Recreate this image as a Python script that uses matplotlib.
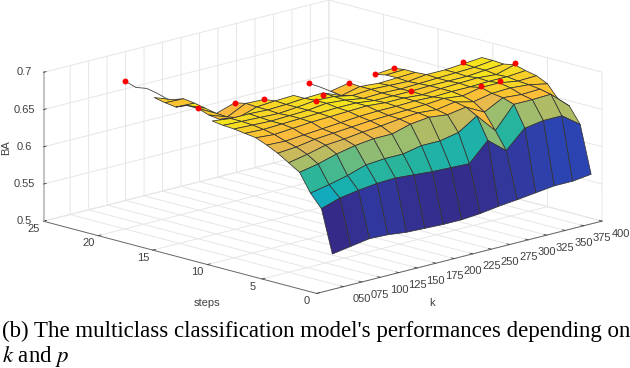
import numpy as np
import matplotlib
matplotlib.use('Agg')
import matplotlib.pyplot as plt
from matplotlib.colors import LinearSegmentedColormap, Normalize
from mpl_toolkits.mplot3d.art3d import Poly3DCollection

plt.rcParams['font.family'] = ['Liberation Sans']
plt.rcParams['mathtext.fontset'] = 'stix'
plt.rcParams['grid.color'] = '#e6e6e6'
plt.rcParams['grid.linewidth'] = 0.7

n = np.nan
k_vals = [50, 75, 100, 125, 150, 175, 200, 225, 250, 275, 300, 325, 350, 375, 400]
k_labels = ['050', '075', '100', '125', '150', '175', '200', '225', '250', '275', '300', '325', '350', '375', '400']
step_vals = list(range(1, 20))

# one row per step, one column per k
row01 = [.540, .544, .548, .547, .544, .543, .542, .542, .544, .5475, .550, .553, .556, .556, .559]
row02 = [.597, .605, .609, .612, .613, .611, .609, .608, .607, .632, .612, .636, .640, .640, .622]
row03 = [.614, .619, .625, .633, .635, .635, .640, .640, .645, .661, .635, .664, .664, .665, .643]
row04 = [.638, .643, .650, .655, .658, .658, .665, .668, .665, .669, .656, .669, .667, .668, .648]
row05 = [.647, .652, .658, .660, .663, .665, .668, .670, .668, .672, .666, .671, .672, .670, .665]
row06 = [.656, .658, .662, .664, .666, .668, .669, .670, .671, .673, .670, .675, .675, .671, .672]
row07 = [.663, .662, .664, .666, .668, .670, .671, .671, .672, .671, .672, .672, .673, .673, .675]
row08 = [.669, .667, .669, .671, .672, .673, .674, .672, .672, .670, .672, .673, .674, .672, .679]
row09 = [.671, .670, .671, .672, .673, .674, .674, .671, .671, .671, .672, .672, .672, .674, .676]
row10 = [.673, .672, .671, .672, .673, .676, .674, .670, .671, .670, .671, .672, .673, .674, .677]
row11 = [.674, .673, .672, .671, .673, .676, .675, .670, .672, .671, .670, .673, .673, .675, .677]
row12 = [.676, .673, .673, .672, .673, .675, .676, .666, .672, .670, .671, .672, n, n, n]
row13 = [n, .668, .664, .672, .674, .675, n, .668, .673, n, .671, .672, n, n, n]
row14 = [n, .670, .661, .673, .672, n, n, .670, n, n, .668, .670, n, n, n]
row15 = [n, .675, .662, .670, n, n, n, .671, n, n, n, n, n, n, n]
row16 = [n, .675, .665, n, n, n, n, n, n, n, n, n, n, n, n]
row17 = [n, .669, .668, n, n, n, n, n, n, n, n, n, n, n, n]
row18 = [n, .671, .670, n, n, n, n, n, n, n, n, n, n, n, n]
row19 = [n, .674, .665, n, n, n, n, n, n, n, n, n, n, n, n]
rows = [row01, row02, row03, row04, row05, row06, row07, row08, row09, row10,
        row11, row12, row13, row14, row15, row16, row17, row18, row19]

# columns with gaps next to them only show up as thin lines
line1_k = 50
line1_s = [16, 17, 18, 19, 20]
line1_z = [.689, .6936, .6965, .694, .699]
line2_k = 225
line2_s = [12, 13, 14, 15]
line2_z = [.666, .668, .670, .671]

# best point for each k
best_k = [50, 75, 125, 150, 175, 200, 225, 250, 275, 300, 325, 325, 350, 375, 400]
best_s = [20, 15, 15, 14, 11, 12, 15, 13, 9, 14, 14, 6, 6, 11, 8]
best_z = [.699, .675, .670, .672, .675, .673, .671, .673, .671, .668, .670, .677, .677, .677, .681]

parula = [(0.0, '#352a87'), (0.09, '#2f3fa8'), (0.18, '#2450c8'), (0.27, '#1c78d4'),
          (0.364, '#12a5c8'), (0.4545, '#10aeb8'), (0.545, '#2ab59a'), (0.636, '#6abb80'),
          (0.727, '#a8bd68'), (0.83, '#dcb855'), (0.91, '#fdbb3c'), (0.96, '#fac52f'), (1.0, '#f5e61c')]
cmap = LinearSegmentedColormap.from_list('parula', parula)
norm = Normalize(0.54, 0.675)

Z = np.array(rows)
K = np.array(k_vals)
S = np.array(step_vals)

fig = plt.figure(figsize=(6.3, 3.68), dpi=100)
ax = fig.add_axes([-0.026, 0.057, 1.06, 1.06], projection='3d', proj_type='ortho',
                  computed_zorder=False)
ax.set_box_aspect((399, 390, 154), zoom=1.442)
ax.view_init(elev=15, azim=-134.4)
ax.patch.set_alpha(0)

quads = []
cols = []
for r in range(len(S) - 1):
    for c in range(len(K) - 1):
        zz = [Z[r, c], Z[r, c + 1], Z[r + 1, c + 1], Z[r + 1, c]]
        if np.isnan(zz).any():
            continue
        quads.append([(K[c], S[r], zz[0]), (K[c + 1], S[r], zz[1]),
                      (K[c + 1], S[r + 1], zz[2]), (K[c], S[r + 1], zz[3])])
        cols.append(cmap(norm(Z[r, c])))
surf = Poly3DCollection(quads, facecolors=cols, edgecolors='#333333', linewidths=0.55, zorder=1)
ax.add_collection3d(surf)
surf.set_clip_on(False)

ax.plot([line1_k] * len(line1_s), line1_s, line1_z, color='#444444', lw=0.6, zorder=2, clip_on=False)
ax.plot([line2_k] * len(line2_s), line2_s, line2_z, color='#444444', lw=0.6, zorder=2, clip_on=False)
pts = ax.scatter(best_k, best_s, best_z, color='#ff0000', s=18, depthshade=False, zorder=3, linewidths=0)
pts.set_clip_on(False)

ax.set_xlim(14, 400, view_margin=0)
ax.set_ylim(0, 25, view_margin=0)
ax.set_zlim(0.5, 0.7, view_margin=0)
ax.set_xticks(k_vals)
ax.set_xticklabels(k_labels, ha='left')
ax.set_yticks([0, 5, 10, 15, 20, 25])
ax.set_yticklabels(['0', '5', '10', '15', '20', '25'], va='center')
ax.set_zticks([0.5, 0.55, 0.6, 0.65, 0.7])
ax.set_zticklabels(['0.5', '0.55', '0.6', '0.65', '0.7'], va='center')
ax.tick_params(labelsize=8, colors='#404040', pad=-3)
for a in (ax.xaxis, ax.yaxis, ax.zaxis):
    a.set_pane_color((1, 1, 1, 0))
    a.pane.set_edgecolor((1, 1, 1, 0))
    a.line.set_color('#666666')
    a.line.set_linewidth(0.7)
    a._axinfo['tick']['inward_factor'] = 0.0
    a._axinfo['tick']['outward_factor'] = 0.12
    a._axinfo['tick']['linewidth'] = {True: 0.6, False: 0.6}
ax.zaxis.line.set_color('#c4c4c4')
ax.zaxis.line.set_linewidth(1.5)

fig.text(207 / 630, 1 - 303 / 368, 'steps', fontsize=8, color='#404040', ha='center', va='center')
fig.text(432 / 630, 1 - 303 / 368, 'k', fontsize=8, color='#404040', ha='center', va='center')
fig.text(6 / 630, 1 - 148 / 368, 'BA', fontsize=8, color='#404040', ha='center', va='center', rotation=90)

fig.text(2 / 630, 1 - 337 / 368, "(b) The multiclass classification model's performances depending on",
         fontsize=16.45, family='Liberation Serif', color='black', ha='left', va='baseline')
fig.text(2 / 630, 1 - 362 / 368, "$k$ and $p$",
         fontsize=16.45, family='Liberation Serif', color='black', ha='left', va='baseline')

plt.savefig('out.png', dpi=100)
